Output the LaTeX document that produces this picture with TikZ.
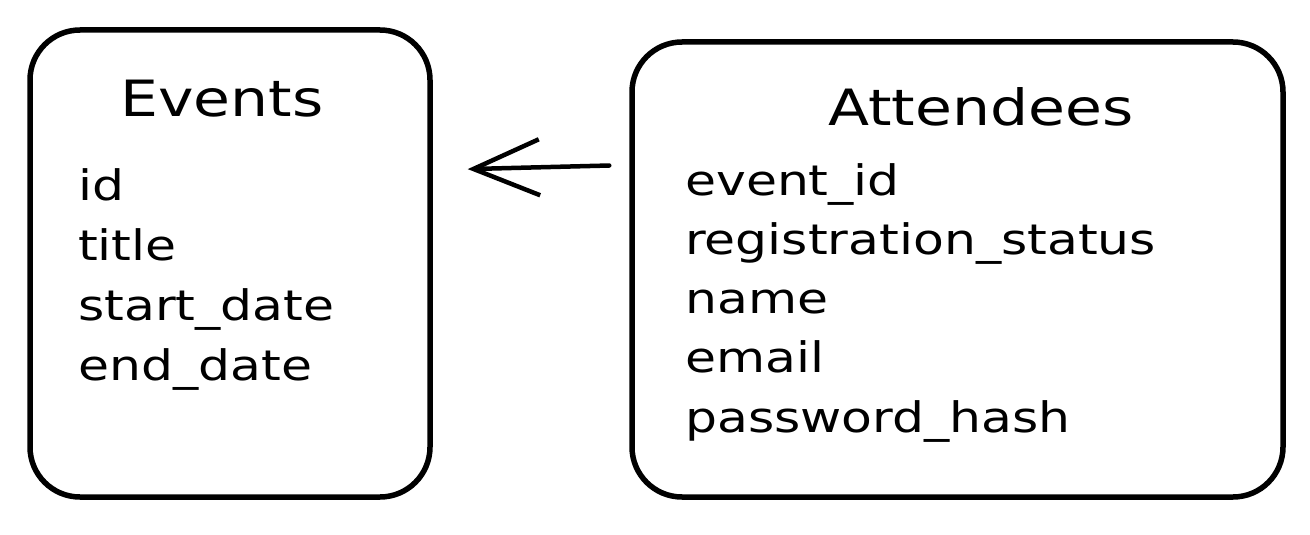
\documentclass[tikz,border=0pt]{standalone}
\usepackage{fontspec}
\setmainfont[FakeStretch=1.2]{DejaVu Sans}
\usetikzlibrary{arrows.meta, positioning}
\tikzset{
  % rounded table box, sized in px-like points
  tbl/.style 2 args={
    rectangle, rounded corners=50pt,
    draw=black, fill=white, line width=5.5pt,
    minimum width=#1, minimum height=#2, inner sep=0pt
  },
  ttl/.style={font=\fontsize{50}{60}\selectfont, anchor=base, inner sep=0pt},
  fld/.style={font=\fontsize{42}{50}\selectfont, anchor=base west, inner sep=0pt},
  arr/.style={-{Straight Barb[length=66pt 0, width=56pt 0]}, line width=4.5pt, line cap=round}
}
\begin{document}
\begin{tikzpicture}[x=1pt, y=1pt]
  \useasboundingbox (0,0) rectangle (1310,-535);

  %% -- Events table (left) --
  \node[tbl={400pt}{467pt}] (ev) at (230,-263.5) {};
  \node[ttl] (evt) at (222,-117) {Events};
  \foreach \f [count=\i] in {id, title, start\_date, end\_date}
    \node[fld] (ev\i) at (78,{-200-60*(\i-1)}) {\f};

  %% -- Attendees table (right) --
  \node[tbl={651pt}{455pt}] (att) at (957.5,-269.5) {};
  \node[ttl] (attt) at (981,-125) {Attendees};
  \foreach \f [count=\i] in {event\_id, registration\_status, name, email, password\_hash}
    \node[fld] (att\i) at (685,{-195-59.25*(\i-1)}) {\f};

  %% -- reference arrow --
  \draw[arr, shorten <=20pt, shorten >=35pt]
    ([yshift=104.5pt]att.west) -- ([yshift=93.5pt]ev.east);

\end{tikzpicture}
\end{document}
